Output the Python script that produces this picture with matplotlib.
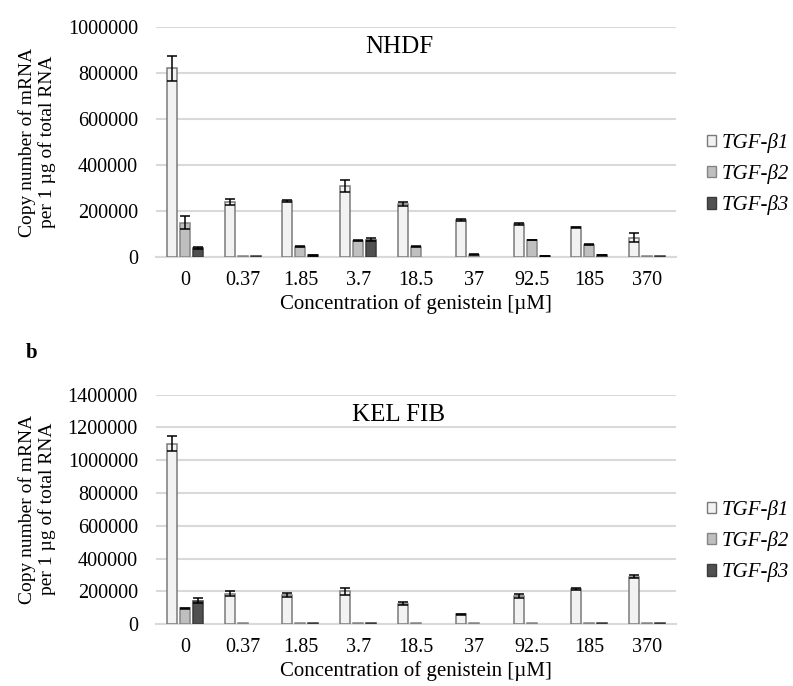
import numpy as np
import matplotlib
matplotlib.use("Agg")
import matplotlib.pyplot as plt

plt.rcParams['font.family'] = ['Liberation Serif', 'DejaVu Serif']

# Genistein concentrations (µM)
conc = ['0', '0.37', '1.85', '3.7', '18.5', '37', '92.5', '185', '370']
genes = ['TGF-β1', 'TGF-β2', 'TGF-β3']

# NHDF – copy number per 1 µg total RNA (mean, SD)
nhdf_b1 = [820000, 240000, 245000, 310000, 230000, 162000, 144000, 130000, 85000]
nhdf_b1_err = [55000, 15000, 4000, 25000, 8000, 3000, 3000, 3000, 20000]
nhdf_b2 = [150000, 5000, 46000, 72000, 46000, 12000, 75000, 54000, 5000]
nhdf_b2_err = [28000, 0, 2000, 3000, 2000, 1000, 2000, 2000, 0]
nhdf_b3 = [40000, 5000, 8000, 77000, 0, 0, 5000, 9000, 5000]
nhdf_b3_err = [3000, 0, 1000, 7000, 0, 0, 1000, 1000, 0]

# Keloid fibroblasts (KEL FIB)
kel_b1 = [1100000, 185000, 180000, 200000, 125000, 60000, 172000, 215000, 290000]
kel_b1_err = [45000, 15000, 12000, 22000, 8000, 5000, 10000, 4000, 8000]
kel_b2 = [97000, 5000, 5000, 5000, 5000, 5000, 5000, 5000, 5000]
kel_b2_err = [5000, 0, 0, 0, 0, 0, 0, 0, 0]
kel_b3 = [145000, 0, 5000, 5000, 0, 0, 0, 5000, 5000]
kel_b3_err = [18000, 0, 0, 0, 0, 0, 0, 0, 0]

faces = ['#f2f2f2', '#bfbfbf', '#505050']
edges = ['#7a7a7a', '#858585', '#3a3a3a']
grid_c = '#d9d9d9'

fig = plt.figure(figsize=(7.93, 6.86), dpi=100)
ax1 = fig.add_axes([156 / 793, 1 - 257.3 / 686, 520 / 793, 230.3 / 686])
ax2 = fig.add_axes([156 / 793, 1 - 624.3 / 686, 520 / 793, 229.7 / 686])


def draw_panel(ax, series, errs, ymax, title, title_y, leg_y):
    x = np.arange(len(conc))
    width = 0.173
    step = 0.225
    handles = []
    for i, (vals, err) in enumerate(zip(series, errs)):
        pos = x + (i - 1) * step
        v = np.array(vals, dtype=float)
        # no outline for empty (zero) bars
        lw = np.where(v > 0, 1.1, 0.0)
        b = ax.bar(pos, v, width, color=faces[i], edgecolor=edges[i],
                   linewidth=lw, zorder=3, label=genes[i])
        handles.append(b)
        e = np.array(err, dtype=float)
        m = e > 0
        ax.errorbar(pos[m], v[m], yerr=e[m], fmt='none',
                    ecolor='black', elinewidth=1.1, capsize=3.6,
                    capthick=1.1, zorder=4)
    ax.set_xlim(-0.5, len(conc) - 0.5)
    ax.set_ylim(0, ymax)
    ax.set_yticks(np.arange(0, ymax + 1, 200000))
    ax.set_yticklabels([f'{int(t)}' for t in np.arange(0, ymax + 1, 200000)])
    ax.set_xticks(x)
    ax.set_xticklabels(conc)
    ax.yaxis.grid(True, color=grid_c, linewidth=1.5, zorder=0)
    ax.set_axisbelow(True)
    for s in ['top', 'right', 'left']:
        ax.spines[s].set_visible(False)
    ax.spines['bottom'].set_color(grid_c)
    ax.spines['bottom'].set_linewidth(1.5)
    ax.tick_params(axis='y', length=0, pad=13, labelsize=14.5)
    ax.tick_params(axis='x', length=0, pad=10, labelsize=14.5)
    ax.set_xlabel('Concentration of genistein [µM]', fontsize=15, labelpad=3)
    fig.text(399 / 793, 1 - title_y / 686, title, fontsize=18,
             ha='center', va='center')
    leg = ax.legend(handles=handles, labels=genes, loc='center left',
                    bbox_to_anchor=(707 / 793, 1 - leg_y / 686),
                    bbox_transform=fig.transFigure, frameon=False,
                    prop={'style': 'italic', 'size': 15}, handlelength=0.45,
                    handleheight=0.45, handletextpad=0.25, labelspacing=0.55,
                    borderaxespad=0, borderpad=0)
    for h in leg.legend_handles:
        h.set_linewidth(1.0)


draw_panel(ax1, [nhdf_b1, nhdf_b2, nhdf_b3],
           [nhdf_b1_err, nhdf_b2_err, nhdf_b3_err],
           1000000, 'NHDF', 47, 174)
draw_panel(ax2, [kel_b1, kel_b2, kel_b3],
           [kel_b1_err, kel_b2_err, kel_b3_err],
           1400000, 'KEL FIB', 415, 541)

ylab = 'Copy number of mRNA\nper 1 µg of total RNA'
fig.text(37 / 793, 1 - 142 / 686, ylab, rotation=90, fontsize=14,
         ha='center', va='center', multialignment='center', linespacing=1.1)
fig.text(37 / 793, 1 - 509 / 686, ylab, rotation=90, fontsize=14,
         ha='center', va='center', multialignment='center', linespacing=1.1)

fig.text(32 / 793, 1 - 353 / 686, 'b', fontsize=15, fontweight='bold',
         ha='center', va='center')

fig.savefig('out.png', dpi=100)
